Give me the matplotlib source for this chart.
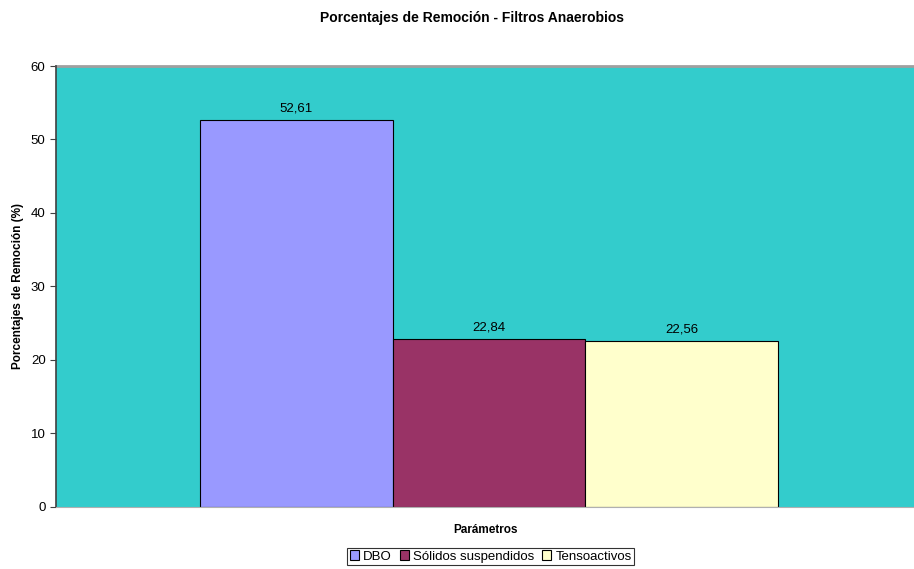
import matplotlib.pyplot as plt
import numpy as np

plt.rcParams['font.family'] = ['Liberation Sans', 'DejaVu Sans']

series = ['DBO', 'Sólidos suspendidos', 'Tensoactivos']
values = [52.61, 22.84, 22.56]
labels = ['52,61', '22,84', '22,56']
colors = ['#9999FF', '#993366', '#FFFFCC']

fig = plt.figure(figsize=(9.14, 5.69), dpi=100)
ax = fig.add_axes([0.0613, 0.109, 0.9387, 0.775])
ax.set_facecolor('#33CCCC')

offsets = np.array([-1, 0, 1])
for off, v, lab, c, name in zip(offsets, values, labels, colors, series):
    ax.bar(off, v, width=1.0, color=c, edgecolor='black', linewidth=0.8, label=name)
    ax.text(off, v + 0.8, lab, ha='center', va='bottom', fontsize=9.5)

ax.set_xlim(-2.247, 2.206)
ax.set_ylim(0, 60)
ax.set_yticks(range(0, 61, 10))
ax.set_xticks([])
ax.tick_params(axis='y', labelsize=9.5, length=4, direction='out', color='#404040')

for s in ['top', 'right']:
    ax.spines[s].set_visible(False)
ax.spines['left'].set_color('#404040')
ax.spines['left'].set_linewidth(1.2)
ax.spines['bottom'].set_color('#b0b0b0')
ax.axhline(60, color='#a0a0a0', linewidth=2, clip_on=False)

ax.set_ylabel('Porcentajes de Remoción (%)', fontsize=8.5, fontweight='bold', labelpad=5)
ax.set_xlabel('Parámetros', fontsize=8.5, fontweight='bold', labelpad=12)
fig.text(0.516, 0.968, 'Porcentajes de Remoción - Filtros Anaerobios', ha='center', va='center',
         fontsize=10, fontweight='bold')

leg = fig.legend(loc='center', bbox_to_anchor=(0.537, 0.022), ncol=3, fontsize=9.5,
                 frameon=True, fancybox=False, edgecolor='black', handlelength=0.7,
                 handleheight=0.7, handletextpad=0.3, columnspacing=0.6, borderpad=0.2,
                 borderaxespad=0)
leg.get_frame().set_linewidth(0.8)

fig.savefig('out.png', dpi=100)
